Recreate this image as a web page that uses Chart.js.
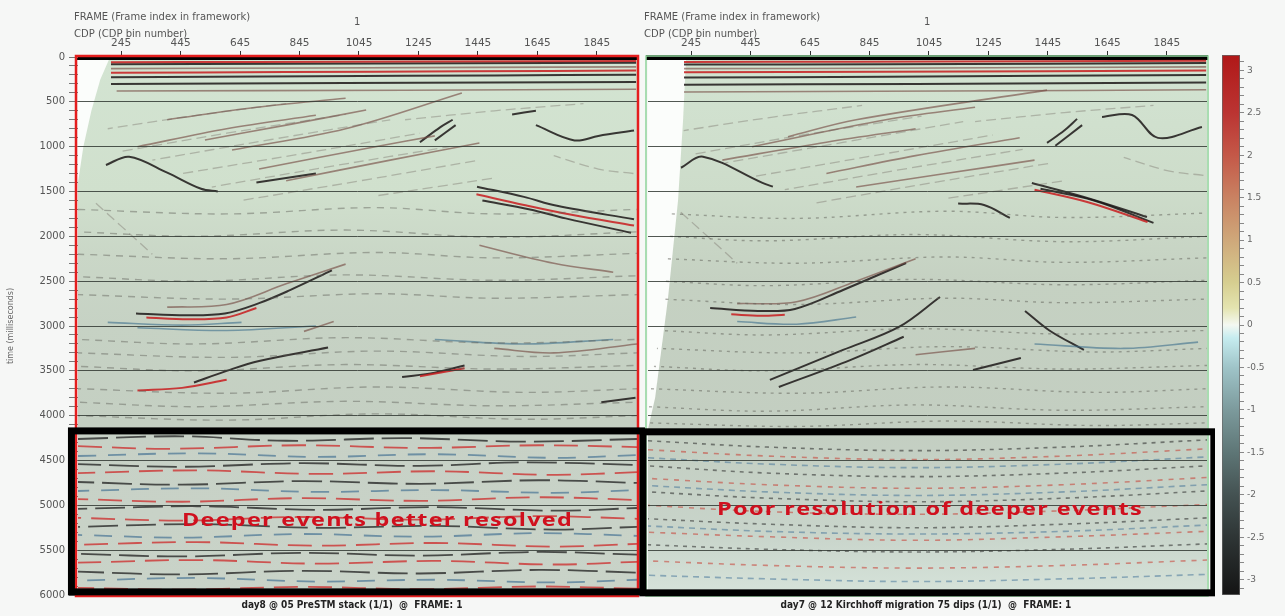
<!DOCTYPE html>
<html><head><meta charset="utf-8">
<script src="https://cdn.jsdelivr.net/npm/chart.js@4.4.1/dist/chart.umd.min.js"></script>
<style>
html,body{margin:0;padding:0}
body{width:1285px;height:616px;overflow:hidden;position:relative;background:#f6f7f6;font-family:"DejaVu Sans",sans-serif}
.cv{position:absolute;top:0}
.lbl{position:absolute;font:10px "DejaVu Sans",sans-serif;color:#555;white-space:nowrap}
.cap{position:absolute;top:599px;font:bold 10px "DejaVu Sans Condensed","DejaVu Sans",sans-serif;color:#222;white-space:nowrap;transform:translateX(-50%)}
.note{position:absolute;font:700 18px "Open Sans",sans-serif;letter-spacing:1px;color:#d0101e;white-space:nowrap;line-height:1}
</style></head>
<body>
<div class="cv" style="left:0"><canvas id="left" width="645" height="616"></canvas></div>
<div class="cv" style="left:638px"><canvas id="right" width="577" height="616"></canvas></div>
<div class="cv" style="left:1212px"><canvas id="bar" width="73" height="616"></canvas></div>

<div class="lbl" style="left:74px;top:11px">FRAME (Frame index in framework)</div>
<div class="lbl" style="left:354px;top:16px">1</div>
<div class="lbl" style="left:74px;top:28px">CDP (CDP bin number)</div>
<div class="lbl" style="left:644px;top:11px">FRAME (Frame index in framework)</div>
<div class="lbl" style="left:924px;top:16px">1</div>
<div class="lbl" style="left:644px;top:28px">CDP (CDP bin number)</div>
<div class="cap" style="left:352px">day8 @ 05 PreSTM stack (1/1) &nbsp;@ &nbsp;FRAME: 1</div>
<div class="cap" style="left:926px">day7 @ 12 Kirchhoff migration 75 dips (1/1) &nbsp;@ &nbsp;FRAME: 1</div>
<div class="note" data-cx="377" data-cy="519" data-w="391">Deeper events better resolved</div>
<div class="note" data-cx="930" data-cy="508" data-w="426">Poor resolution of deeper events</div>

<script>
// ---------- axes / ticks ----------
const cdpTicks = [245, 445, 645, 845, 1045, 1245, 1445, 1645, 1845];
const cdpRange = [100, 1980];
const timeTicks = [0, 500, 1000, 1500, 2000, 2500, 3000, 3500, 4000, 4500, 5000, 5500, 6000];
const timeRange = [0, 6000];
const ampTicks = [-3, -2.5, -2, -1.5, -1, -0.5, 0, 0.5, 1, 1.5, 2, 2.5, 3];
const ampRange = [-3.18, 3.18];

// ---------- mute wedges and highlighted zones [CDP, ms] ----------
const leftMute = [[100, 0], [208, 0], [175, 250], [145, 600], [118, 1000], [100, 1400]];
const rightMute = [[100, 0], [228, 0], [218, 700], [201, 1600], [167, 2700], [124, 3800], [100, 4150]];
const leftDeepZone = [78, 2001, 4170, 5965];
const rightDeepZone = [83, 2003, 4180, 5976];

// ---------- LEFT panel reflectors (PreSTM stack) [CDP, ms] ----------
const leftRed = [
  [[211, 58], [700, 55], [1200, 50], [1977, 45]],
  [[211, 175], [800, 168], [1400, 160], [1977, 150]],
  [[330, 2905], [470, 2925], [600, 2905], [700, 2800]],
  [[1440, 1530], [1600, 1650], [1760, 1760], [1970, 1880]],
  [[1250, 3560], [1400, 3470]],
  [[300, 3720], [450, 3690], [600, 3600]]
];
const leftDark = [
  [[211, 80], [800, 76], [1400, 70], [1977, 64]],
  [[211, 225], [900, 215], [1500, 205], [1977, 198]],
  [[211, 300], [1000, 290], [1977, 280]],
  [[194, 1204], [272, 1112], [400, 1290], [514, 1470], [570, 1500]],
  [[1442, 1446], [1600, 1560], [1711, 1660], [1970, 1810]],
  [[1460, 1600], [1620, 1700], [1740, 1800], [1960, 1960]],
  [[1640, 760], [1770, 930], [1850, 880], [1970, 820]],
  [[1250, 950], [1320, 780], [1360, 700]],
  [[1300, 930], [1370, 760]],
  [[295, 2860], [463, 2880], [594, 2860], [709, 2745], [813, 2600], [954, 2380]],
  [[490, 3630], [600, 3500], [709, 3390], [941, 3240]],
  [[1190, 3570], [1300, 3520], [1400, 3440]],
  [[1560, 640], [1640, 600]],
  [[700, 1400], [900, 1300]],
  [[1860, 3850], [1975, 3800]]
];
const leftBrown = [
  [[211, 130], [900, 122], [1977, 110]],
  [[230, 380], [1200, 370], [1977, 360]],
  [[400, 2790], [600, 2760], [800, 2530], [1000, 2310]],
  [[527, 925], [800, 760], [1069, 591]],
  [[618, 1037], [1000, 800], [1391, 401]],
  [[709, 1250], [1100, 1000], [1300, 880]],
  [[800, 1380], [1150, 1150], [1450, 960]],
  [[400, 700], [700, 560], [1000, 460]],
  [[300, 1000], [600, 800], [900, 650]],
  [[860, 3060], [960, 2950]],
  [[1500, 3250], [1700, 3300], [1980, 3200]],
  [[1450, 2100], [1700, 2300], [1900, 2400]]
];
const leftFaint = [
  [[250, 1050], [600, 850], [1000, 640]],
  [[350, 1150], [750, 920], [1150, 700]],
  [[450, 1300], [850, 1080], [1250, 850]],
  [[550, 1450], [950, 1220], [1350, 1000]],
  [[650, 1600], [1050, 1380], [1450, 1150]],
  [[200, 800], [500, 650], [800, 520]],
  [[1100, 1550], [1300, 1450], [1500, 1350]],
  [[1200, 700], [1500, 600], [1800, 520]],
  [[150, 1600], [250, 1900], [350, 2200]],
  [[1700, 1100], [1850, 1250], [1970, 1300]]
];
const leftBlue = [
  [[300, 3020], [600, 3050], [900, 3000]],
  [[1300, 3150], [1600, 3200], [1900, 3150]],
  [[200, 2960], [450, 2990], [650, 2960]]
];
const leftTexture = [
  [[100, 1700], [600, 1750], [1100, 1680], [1500, 1750], [1980, 1700]],
  [[100, 1950], [500, 2000], [1000, 1930], [1500, 2010], [1980, 1950]],
  [[100, 2200], [600, 2250], [1100, 2180], [1500, 2240], [1980, 2190]],
  [[100, 2450], [500, 2500], [1000, 2430], [1500, 2490], [1980, 2440]],
  [[100, 2650], [600, 2700], [1100, 2640], [1500, 2690], [1980, 2650]],
  [[100, 3150], [500, 3200], [1000, 3130], [1500, 3190], [1980, 3150]],
  [[100, 3300], [600, 3350], [1100, 3280], [1600, 3340], [1980, 3300]],
  [[100, 3450], [500, 3500], [1000, 3430], [1500, 3480], [1980, 3440]],
  [[100, 3700], [600, 3750], [1100, 3680], [1600, 3740], [1980, 3700]],
  [[100, 3850], [500, 3900], [1000, 3840], [1500, 3890], [1980, 3850]],
  [[100, 4000], [600, 4050], [1100, 3980], [1600, 4040], [1980, 4000]]
];
const leftDeepDark = [
  [[100, 4260], [450, 4230], [800, 4280], [1200, 4250], [1600, 4290], [1980, 4260]],
  [[100, 4540], [450, 4570], [850, 4530], [1250, 4560], [1600, 4520], [1980, 4550]],
  [[100, 4740], [450, 4770], [850, 4730], [1250, 4760], [1650, 4720], [1980, 4750]],
  [[100, 5040], [500, 5010], [900, 5050], [1300, 5020], [1700, 5060], [1980, 5030]],
  [[100, 5240], [500, 5210], [900, 5250], [1300, 5230], [1700, 5270], [1980, 5240]],
  [[100, 5540], [450, 5570], [850, 5530], [1250, 5560], [1650, 5520], [1980, 5550]],
  [[100, 5740], [450, 5770], [850, 5730], [1250, 5760], [1650, 5720], [1980, 5750]]
];
const leftDeepRed = [
  [[100, 4340], [400, 4370], [850, 4330], [1250, 4360], [1650, 4330], [1980, 4350]],
  [[100, 4640], [500, 4610], [900, 4650], [1300, 4620], [1700, 4660], [1980, 4630]],
  [[100, 4930], [450, 4960], [850, 4920], [1250, 4950], [1650, 4910], [1980, 4940]],
  [[100, 5140], [450, 5170], [850, 5130], [1250, 5160], [1650, 5120], [1980, 5150]],
  [[100, 5440], [500, 5410], [900, 5450], [1300, 5420], [1700, 5460], [1980, 5430]],
  [[100, 5640], [500, 5610], [900, 5650], [1300, 5620], [1700, 5660], [1980, 5630]],
  [[100, 5920], [450, 5940], [850, 5910], [1250, 5935], [1650, 5905], [1980, 5930]]
];
const leftDeepBlue = [
  [[100, 4450], [500, 4420], [900, 4460], [1300, 4430], [1700, 4470], [1980, 4440]],
  [[100, 4840], [500, 4810], [900, 4850], [1300, 4830], [1700, 4860], [1980, 4830]],
  [[100, 5330], [450, 5360], [850, 5320], [1250, 5350], [1650, 5310], [1980, 5340]],
  [[100, 5840], [500, 5810], [900, 5850], [1300, 5830], [1700, 5860], [1980, 5830]]
];

// ---------- RIGHT panel reflectors (Kirchhoff migration) [CDP, ms] ----------
const rightRed = [
  [[221, 55], [800, 52], [1400, 48], [1977, 42]],
  [[221, 170], [900, 165], [1977, 150]],
  [[380, 2870], [480, 2885], [560, 2875]],
  [[1400, 1480], [1580, 1620], [1780, 1840]]
];
const rightDark = [
  [[221, 85], [900, 80], [1977, 68]],
  [[221, 230], [900, 220], [1977, 200]],
  [[221, 310], [1000, 300], [1977, 285]],
  [[211, 1235], [285, 1112], [483, 1401], [520, 1446]],
  [[1391, 1406], [1566, 1561], [1778, 1784]],
  [[1420, 1470], [1600, 1600], [1800, 1850]],
  [[1627, 668], [1728, 647], [1815, 902], [1963, 780]],
  [[1442, 958], [1500, 820], [1543, 690]],
  [[1470, 990], [1560, 760]],
  [[309, 2799], [470, 2832], [594, 2810], [756, 2598], [968, 2297]],
  [[1143, 1635], [1230, 1650], [1317, 1795]],
  [[510, 3601], [756, 3267], [944, 3010], [1082, 2676]],
  [[540, 3680], [780, 3380], [960, 3120]],
  [[1368, 2832], [1450, 3050], [1566, 3267]],
  [[1193, 3490], [1354, 3356]]
];
const rightBrown = [
  [[221, 130], [900, 125], [1977, 110]],
  [[221, 390], [1100, 380], [1977, 365]],
  [[571, 889], [800, 700], [1442, 369]],
  [[450, 1000], [900, 700], [1200, 560]],
  [[700, 1300], [1000, 1100], [1350, 900]],
  [[350, 1150], [700, 950], [1000, 800]],
  [[800, 1450], [1100, 1300], [1400, 1150]],
  [[400, 2750], [600, 2730], [800, 2500], [1000, 2250]],
  [[1000, 3320], [1200, 3250]]
];
const rightFaint = [
  [[260, 1080], [620, 870], [1020, 660]],
  [[360, 1180], [760, 950], [1160, 720]],
  [[460, 1330], [860, 1100], [1260, 870]],
  [[560, 1480], [960, 1250], [1360, 1030]],
  [[660, 1630], [1060, 1400], [1460, 1180]],
  [[220, 820], [520, 670], [820, 540]],
  [[1100, 1580], [1300, 1480], [1500, 1380]],
  [[1200, 720], [1500, 620], [1800, 540]],
  [[200, 1700], [300, 2000], [400, 2300]],
  [[1700, 1120], [1850, 1270], [1970, 1320]]
];
const rightBlue = [
  [[400, 2950], [600, 2980], [800, 2900]],
  [[1400, 3200], [1700, 3250], [1950, 3180]]
];
const rightTexture = [
  [[180, 1750], [600, 1800], [1100, 1720], [1500, 1790], [1980, 1740]],
  [[170, 2000], [500, 2050], [1000, 1980], [1500, 2060], [1980, 2000]],
  [[160, 2250], [600, 2300], [1100, 2230], [1500, 2290], [1980, 2240]],
  [[150, 2500], [500, 2550], [1000, 2480], [1500, 2540], [1980, 2490]],
  [[145, 2700], [600, 2760], [1100, 2690], [1500, 2740], [1980, 2700]],
  [[140, 3050], [500, 3100], [1000, 3030], [1500, 3090], [1980, 3050]],
  [[130, 3250], [600, 3300], [1100, 3230], [1600, 3290], [1980, 3250]],
  [[120, 3450], [500, 3500], [1000, 3430], [1500, 3480], [1980, 3440]],
  [[110, 3700], [600, 3750], [1100, 3680], [1600, 3740], [1980, 3700]],
  [[100, 3900], [500, 3950], [1000, 3880], [1500, 3940], [1980, 3900]],
  [[100, 4080], [600, 4120], [1100, 4060], [1600, 4110], [1980, 4080]]
];
const rightDeepDark = [
  [[100, 4280], [500, 4350], [1000, 4390], [1500, 4350], [1980, 4270]],
  [[100, 4560], [500, 4640], [1000, 4680], [1500, 4640], [1980, 4560]],
  [[100, 4850], [500, 4920], [1000, 4960], [1500, 4920], [1980, 4840]],
  [[100, 5150], [500, 5210], [1000, 5250], [1500, 5210], [1980, 5140]],
  [[100, 5440], [500, 5490], [1000, 5520], [1500, 5490], [1980, 5430]]
];
const rightDeepRed = [
  [[100, 4380], [500, 4450], [1000, 4490], [1500, 4450], [1980, 4370]],
  [[100, 4700], [500, 4770], [1000, 4810], [1500, 4770], [1980, 4690]],
  [[100, 5000], [500, 5070], [1000, 5100], [1500, 5060], [1980, 4990]],
  [[100, 5300], [500, 5350], [1000, 5390], [1500, 5350], [1980, 5290]],
  [[100, 5620], [500, 5670], [1000, 5700], [1500, 5670], [1980, 5610]]
];
const rightDeepBlue = [
  [[100, 4470], [500, 4540], [1000, 4580], [1500, 4540], [1980, 4460]],
  [[100, 4780], [500, 4850], [1000, 4890], [1500, 4850], [1980, 4770]],
  [[100, 5230], [500, 5290], [1000, 5320], [1500, 5290], [1980, 5220]],
  [[100, 5780], [500, 5820], [1000, 5850], [1500, 5820], [1980, 5770]]
];

// ---------- styles (kept apart from data) ----------
const S = {
  red:   {color: 'rgba(200,28,30,0.85)', width: 2},
  dark:  {color: 'rgba(28,24,24,0.85)', width: 2},
  brown: {color: 'rgba(120,78,70,0.65)', width: 1.6},
  faint: {color: 'rgba(105,95,90,0.35)', width: 1.3, dash: [10, 5]},
  blue:  {color: 'rgba(60,110,140,0.6)', width: 1.6},
  tex:   {color: 'rgba(95,95,88,0.45)', width: 1.4, dash: [7, 6]},
  rtex:  {color: 'rgba(95,95,88,0.5)', width: 1.4, dash: [3, 5]},
  dRed:  {color: 'rgba(205,40,40,0.75)', width: 1.8, dash: [24, 10]},
  dDark: {color: 'rgba(30,30,30,0.75)', width: 1.8, dash: [30, 8]},
  dBlue: {color: 'rgba(50,100,140,0.6)', width: 1.8, dash: [18, 12]},
  rRed:  {color: 'rgba(200,60,50,0.55)', width: 1.6, dash: [5, 6]},
  rDark: {color: 'rgba(40,40,40,0.55)', width: 1.6, dash: [4, 5]},
  rBlue: {color: 'rgba(60,110,150,0.5)', width: 1.6, dash: [6, 5]}
};
const bgLeft = {t: [0, 1500, 2200, 3000, 4100, 4200, 6000], c: ['#d3e4d2', '#d0e0cd', '#cad7c7', '#c6d2c4', '#c4cfc2', '#c7d1c6', '#c9d3c8']};
const bgRight = {t: [0, 1500, 2500, 4100, 5300, 6000], c: ['#d3e4d2', '#cddcca', '#c5d1c2', '#c3cec1', '#c8d4ca', '#d6e3da']};
const ampStops = [-3.18, -2.5, -2, -1.5, -1, -0.5, -0.15, 0, 0.2, 0.5, 1, 1.5, 2, 2.5, 3.18];
const ampColors = ['#141414', '#2e3535', '#445252', '#5e7676', '#7c9a9c', '#9fc4c8', '#c6ecef', '#f4f8f2', '#e4e4b0', '#d6ce90', '#cfa87a', '#c98262', '#c45848', '#bb3432', '#b01818'];

Chart.defaults.font.family = '"DejaVu Sans", sans-serif';
Chart.defaults.color = '#555';

function lines(groups, st) {
  return groups.map((pts, i) => ({
    data: pts.map(([x, y]) => ({x, y})),
    showLine: true, pointRadius: 0, fill: false, tension: 0.35,
    borderColor: st.color, borderWidth: st.width, borderDash: st.dash || [], borderDashOffset: i * 7
  }));
}

const panelDeco = {
  id: 'panelDeco',
  beforeDraw(chart, args, o) {
    const {ctx, chartArea: a, scales: {x, y}} = chart;
    ctx.save();
    const g = ctx.createLinearGradient(0, a.top, 0, a.bottom);
    o.bg.t.forEach((t, i) => g.addColorStop(Math.min(1, Math.max(0, (y.getPixelForValue(t) - a.top) / (a.bottom - a.top))), o.bg.c[i]));
    ctx.fillStyle = g;
    ctx.fillRect(a.left, a.top, a.width, a.height);
    ctx.beginPath();
    o.mute.forEach(([c, t], i) => {
      const px = x.getPixelForValue(c), py = y.getPixelForValue(t);
      i ? ctx.lineTo(px, py) : ctx.moveTo(px, py);
    });
    ctx.closePath();
    ctx.fillStyle = '#fbfdfb';
    ctx.fill();
    ctx.restore();
  },
  afterDraw(chart, args, o) {
    const {ctx, chartArea: a, scales: {x, y}} = chart;
    ctx.save();
    ctx.strokeStyle = o.frameColor;
    ctx.lineWidth = o.frameWidth;
    ctx.strokeRect(a.left - 2, a.top - 1, a.width + 3, a.height + 2);
    const [c0, c1, t0, t1] = o.zone;
    const x0 = x.getPixelForValue(c0), x1 = x.getPixelForValue(c1);
    const y0 = y.getPixelForValue(t0), y1 = y.getPixelForValue(t1);
    ctx.strokeStyle = '#000';
    ctx.lineWidth = 7;
    ctx.strokeRect(x0, y0, x1 - x0, y1 - y0);
    ctx.restore();
  }
};

function minorTicks(step, lo, hi) { const r = []; for (let v = lo; v <= hi; v += step) r.push({value: v}); return r; }

function panel(id, datasets, opts) {
  return new Chart(document.getElementById(id), {
    type: 'scatter',
    data: {datasets},
    plugins: [panelDeco],
    options: {
      responsive: false, animation: false, events: [],
      layout: {padding: {left: opts.padLeft, right: opts.padRight, top: 0, bottom: 21}},
      plugins: {legend: {display: false}, tooltip: {enabled: false}, panelDeco: opts.deco},
      scales: {
        x: {
          type: 'linear', position: 'top', min: cdpRange[0], max: cdpRange[1],
          afterFit: s => { s.height = 57; },
          afterBuildTicks: s => { s.ticks = cdpTicks.map(v => ({value: v})); },
          ticks: {autoSkip: false, maxRotation: 0, padding: 1, font: {size: 10.5}, color: '#555', callback: v => String(v)},
          grid: {drawOnChartArea: false, drawTicks: true, tickLength: 6, tickColor: '#333'},
          border: {color: '#000', width: 5}
        },
        y: {
          type: 'linear', reverse: true, min: timeRange[0], max: timeRange[1],
          afterFit: s => { s.width = opts.yWidth; },
          afterBuildTicks: s => { s.ticks = minorTicks(100, timeRange[0], timeRange[1]); },
          title: {display: opts.showY, text: 'time (milliseconds)', font: {size: 8}, color: '#666', padding: {top: 0, bottom: 0}},
          ticks: {display: opts.showY, autoSkip: false, padding: 4, font: {size: 10}, color: '#555',
                  callback: v => timeTicks.includes(v) ? String(v) : ''},
          grid: {
            z: 1, drawTicks: opts.showY, tickLength: 9,
            color: c => (c.tick && timeTicks.includes(c.tick.value) && c.tick.value > timeRange[0] && c.tick.value < timeRange[1]) ? 'rgba(50,58,52,0.85)' : 'rgba(0,0,0,0)',
            tickColor: '#777'
          },
          border: {display: false}
        }
      }
    }
  });
}

const leftSets = [].concat(
  lines(leftTexture, S.tex), lines(leftFaint, S.faint),
  lines(leftBlue, S.blue), lines(leftBrown, S.brown),
  lines(leftDeepBlue, S.dBlue), lines(leftDeepRed, S.dRed), lines(leftDeepDark, S.dDark),
  lines(leftRed, S.red), lines(leftDark, S.dark)
);
const rightSets = [].concat(
  lines(rightTexture, S.rtex), lines(rightFaint, S.faint),
  lines(rightBlue, S.blue), lines(rightBrown, S.brown),
  lines(rightDeepBlue, S.rBlue), lines(rightDeepRed, S.rRed), lines(rightDeepDark, S.rDark),
  lines(rightRed, S.red), lines(rightDark, S.dark)
);

panel('left', leftSets, {padLeft: 6, padRight: 8, yWidth: 72, showY: true,
  deco: {bg: bgLeft, mute: leftMute, zone: leftDeepZone, frameColor: '#e41e1e', frameWidth: 2.5}});
panel('right', rightSets, {padLeft: 0, padRight: 8, yWidth: 10, showY: false,
  deco: {bg: bgRight, mute: rightMute, zone: rightDeepZone, frameColor: '#8fd49a', frameWidth: 1.5}});

// ---------- colour bar ----------
new Chart(document.getElementById('bar'), {
  type: 'bar',
  data: {labels: ['amplitude'], datasets: [{
    data: [[ampRange[0], ampRange[1]]],
    barPercentage: 1, categoryPercentage: 1, borderWidth: 1, borderColor: '#666', borderSkipped: false,
    backgroundColor: c => {
      const ch = c.chart, a = ch.chartArea;
      if (!a) return '#888';
      const ys = ch.scales.y;
      const g = ch.ctx.createLinearGradient(0, a.bottom, 0, a.top);
      ampStops.forEach((v, i) => g.addColorStop(Math.min(1, Math.max(0, (ys.getPixelForValue(v) - a.bottom) / (a.top - a.bottom))), ampColors[i]));
      return g;
    }
  }]},
  options: {
    responsive: false, animation: false, events: [],
    layout: {padding: {left: 10, right: 0, top: 55, bottom: 21}},
    plugins: {legend: {display: false}, tooltip: {enabled: false}},
    scales: {
      x: {display: false},
      y: {
        position: 'right', min: ampRange[0], max: ampRange[1],
        afterFit: s => { s.width = 45; },
        afterBuildTicks: s => { const r = []; for (let k = -31; k <= 31; k++) r.push({value: k / 10}); s.ticks = r; },
        ticks: {autoSkip: false, padding: 3, font: {size: 9}, color: '#666',
                callback: v => { const m = ampTicks.find(t => Math.abs(t - v) < 1e-6); return m === undefined ? '' : String(m); }},
        grid: {drawOnChartArea: false, tickLength: 4, tickColor: '#888'},
        border: {display: false}
      }
    }
  }
});

// place the red annotations, stretched to the reference width
document.querySelectorAll('.note').forEach(el => {
  const w = el.offsetWidth, h = el.offsetHeight;
  const sx = +el.dataset.w / w;
  el.style.left = (+el.dataset.cx - w / 2) + 'px';
  el.style.top = (+el.dataset.cy - h / 2) + 'px';
  el.style.transform = 'scaleX(' + sx.toFixed(3) + ')';
});
</script>
</body></html>
